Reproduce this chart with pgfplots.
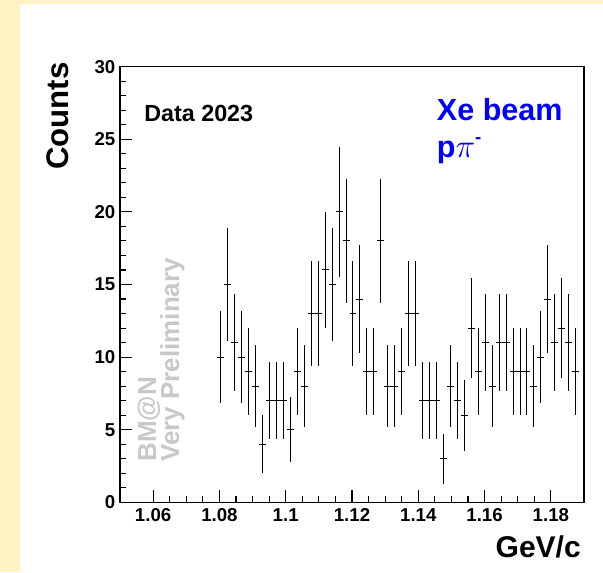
\documentclass[border=0pt]{standalone}
\usepackage{pgfplots}
\pgfplotsset{compat=1.18}
\usepackage{fontspec}
\setmainfont{Liberation Sans}
\definecolor{bgyellow}{RGB}{255,242,196}
\definecolor{wmgray}{RGB}{200,200,200}
\begin{document}
\begin{tikzpicture}[x=0.75pt,y=0.75pt]
\fill[bgyellow] (0,0) rectangle (603,572);
\fill[white] (20,0) rectangle (603,568);
\begin{axis}[
  at={(90pt,52.275pt)}, anchor=south west,
  width=348pt, height=326.7pt, scale only axis,
  xmin=1.05, xmax=1.19, ymin=0, ymax=30,
  xtick={1.06,1.08,1.1,1.12,1.14,1.16,1.18},
  ytick={0,5,10,15,20,25,30},
  minor x tick num=3, minor y tick num=4,
  tick pos=left, tick align=inside,
  major tick length=9pt, minor tick length=4.5pt,
  every tick/.style={black, line width=0.8pt},
  axis line style={line width=1pt},
  /pgf/number format/assume math mode=true,
  ticklabel style={font=\bfseries\fontsize{14}{14}\selectfont},
  xticklabel style={yshift=-1pt},
  clip=false,
]
\addplot[draw=none, mark=none,
  error bars/.cd, x dir=both, x explicit, y dir=both, y explicit,
  error mark=none, error bar style={draw=black, solid, line width=0.75pt}]
  table[x=x, y=y, x error=ex, y error=ey] {
x y ex ey
1.0804 10 0.00105 3.162
1.0825 15 0.00105 3.873
1.0846 11 0.00105 3.317
1.0867 10 0.00105 3.162
1.0888 9 0.00105 3.000
1.0909 8 0.00105 2.828
1.0930 4 0.00105 2.000
1.0951 7 0.00105 2.646
1.0972 7 0.00105 2.646
1.0993 7 0.00105 2.646
1.1014 5 0.00105 2.236
1.1035 9 0.00105 3.000
1.1056 8 0.00105 2.828
1.1077 13 0.00105 3.606
1.1098 13 0.00105 3.606
1.1119 16 0.00105 4.000
1.1140 15 0.00105 3.873
1.1161 20 0.00105 4.472
1.1182 18 0.00105 4.243
1.1203 13 0.00105 3.606
1.1224 14 0.00105 3.742
1.1245 9 0.00105 3.000
1.1266 9 0.00105 3.000
1.1287 18 0.00105 4.243
1.1308 8 0.00105 2.828
1.1329 8 0.00105 2.828
1.1350 9 0.00105 3.000
1.1371 13 0.00105 3.606
1.1392 13 0.00105 3.606
1.1413 7 0.00105 2.646
1.1434 7 0.00105 2.646
1.1455 7 0.00105 2.646
1.1476 3 0.00105 1.732
1.1497 8 0.00105 2.828
1.1518 7 0.00105 2.646
1.1539 6 0.00105 2.449
1.1560 12 0.00105 3.464
1.1581 9 0.00105 3.000
1.1602 11 0.00105 3.317
1.1623 8 0.00105 2.828
1.1644 11 0.00105 3.317
1.1665 11 0.00105 3.317
1.1686 9 0.00105 3.000
1.1707 9 0.00105 3.000
1.1728 9 0.00105 3.000
1.1749 8 0.00105 2.828
1.1770 10 0.00105 3.162
1.1791 14 0.00105 3.742
1.1812 11 0.00105 3.317
1.1833 12 0.00105 3.464
1.1854 11 0.00105 3.317
1.1875 9 0.00105 3.000
};
\end{axis}
% texts
\node[rotate=90, anchor=center, font=\bfseries\fontsize{23.4}{24}\selectfont, inner sep=0pt] at (58,456) {Counts};
\node[anchor=base east, font=\bfseries\fontsize{22.5}{24}\selectfont, inner sep=0pt] at (581,15) {GeV/c};
\node[anchor=base west, font=\bfseries\fontsize{17.5}{18}\selectfont, inner sep=0pt] at (144,450.3) {Data 2023};
\node[anchor=base west, font=\bfseries\fontsize{22.9}{24}\selectfont, inner sep=0pt, text=blue] at (436.7,451) {Xe beam};
\node[anchor=base west, font=\bfseries\fontsize{22.9}{24}\selectfont, inner sep=0pt, text=blue] at (436.7,414.5) {p$\pi$\smash{\raisebox{0.47em}{\fontsize{14}{14}\selectfont -}}};
\node[rotate=90, anchor=base west, font=\bfseries\fontsize{19.5}{20}\selectfont, inner sep=0pt, text=wmgray] at (156,110) {BM@N};
\node[rotate=90, anchor=base west, font=\bfseries\fontsize{19.5}{20}\selectfont, inner sep=0pt, text=wmgray] at (179,110) {Very Preliminary};
\pgfresetboundingbox
\useasboundingbox (0,0) rectangle (603,572);
\end{tikzpicture}
\end{document}
